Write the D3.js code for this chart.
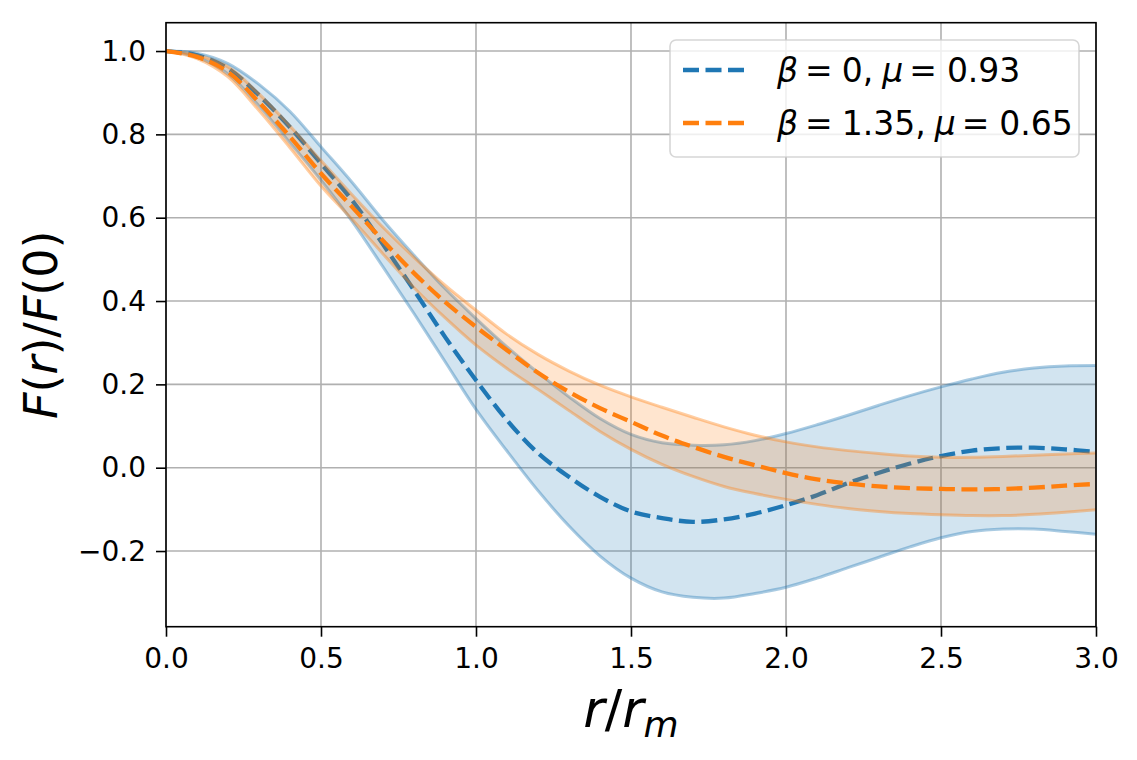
<html>
<head>
<meta charset="utf-8">
<script src="https://d3js.org/d3.v7.min.js"></script>
<style>
  body { margin: 0; background: #fff; }
  text { font-family: "DejaVu Sans", sans-serif; }
</style>
</head>
<body>
<div id="chart"></div>
<script>
// r / r_m sample points
var rVals = [0.0, 0.1, 0.2, 0.3, 0.4, 0.5, 0.6, 0.7, 0.8, 0.9,
             1.0, 1.1, 1.2, 1.3, 1.4, 1.5, 1.6, 1.7, 1.8, 1.9,
             2.0, 2.1, 2.2, 2.3, 2.4, 2.5, 2.6, 2.7, 2.8, 2.9, 3.0];

// beta = 0, mu = 0.93
var blueMean  = [1.000, 0.990, 0.958, 0.894, 0.817, 0.730, 0.642, 0.536, 0.426, 0.314,
                 0.210, 0.114, 0.035, -0.022, -0.070, -0.105, -0.121, -0.130, -0.124, -0.110,
                 -0.090, -0.066, -0.037, -0.012, 0.010, 0.028, 0.041, 0.047, 0.048, 0.044, 0.038];
var blueUpper = [1.000, 0.995, 0.970, 0.920, 0.855, 0.770, 0.685, 0.594, 0.510, 0.430,
                 0.358, 0.290, 0.228, 0.170, 0.118, 0.080, 0.060, 0.054, 0.055, 0.065,
                 0.082, 0.103, 0.126, 0.150, 0.173, 0.194, 0.213, 0.229, 0.239, 0.244, 0.245];
var blueLower = [1.000, 0.985, 0.945, 0.868, 0.780, 0.690, 0.592, 0.482, 0.370, 0.255,
                 0.140, 0.040, -0.055, -0.140, -0.212, -0.265, -0.298, -0.311, -0.313, -0.302,
                 -0.287, -0.265, -0.240, -0.215, -0.190, -0.168, -0.153, -0.147, -0.147, -0.153, -0.160];

// beta = 1.35, mu = 0.65
var orangeMean  = [1.000, 0.986, 0.950, 0.877, 0.794, 0.706, 0.626, 0.545, 0.467, 0.398,
                   0.338, 0.282, 0.228, 0.182, 0.143, 0.110, 0.077, 0.050, 0.026, 0.006,
                   -0.013, -0.028, -0.038, -0.045, -0.049, -0.051, -0.052, -0.051, -0.048, -0.043, -0.039];
var orangeUpper = [1.000, 0.990, 0.962, 0.897, 0.820, 0.737, 0.655, 0.577, 0.505, 0.438,
                   0.378, 0.320, 0.272, 0.232, 0.198, 0.170, 0.145, 0.121, 0.098, 0.078,
                   0.062, 0.050, 0.041, 0.034, 0.028, 0.025, 0.025, 0.027, 0.030, 0.033, 0.035];
var orangeLower = [1.000, 0.982, 0.938, 0.857, 0.768, 0.676, 0.596, 0.513, 0.432, 0.360,
                   0.294, 0.238, 0.188, 0.137, 0.087, 0.044, 0.008, -0.021, -0.045, -0.062,
                   -0.076, -0.088, -0.098, -0.105, -0.110, -0.113, -0.115, -0.115, -0.112, -0.107, -0.101];

var xTicks = [0, 0.5, 1.0, 1.5, 2.0, 2.5, 3.0];
var yTicks = [-0.2, 0.0, 0.2, 0.4, 0.6, 0.8, 1.0];
var legendLabels = [["0", "0.93"], ["1.35", "0.65"]];

var series = [
  {mean: blueMean, upper: blueUpper, lower: blueLower, color: "#1f77b4"},
  {mean: orangeMean, upper: orangeUpper, lower: orangeLower, color: "#ff7f0e"}
];

var W = 1137, H = 760;
var pL = 166, pR = 1096, pT = 22.7, pB = 626.7;

var svg = d3.select("#chart").append("svg")
  .attr("width", W).attr("height", H);

var x = d3.scaleLinear().domain([0, 3]).range([pL, pR]);
var y = d3.scaleLinear().domain([-0.3816, 1.068]).range([pB, pT]);

// grid
svg.append("g").selectAll("line").data(xTicks).enter().append("line")
  .attr("x1", d => x(d)).attr("x2", d => x(d))
  .attr("y1", pT).attr("y2", pB)
  .style("stroke", "#b0b0b0").style("stroke-width", 1.6);
svg.append("g").selectAll("line").data(yTicks).enter().append("line")
  .attr("x1", pL).attr("x2", pR)
  .attr("y1", d => y(d)).attr("y2", d => y(d))
  .style("stroke", "#b0b0b0").style("stroke-width", 1.6);

svg.append("clipPath").attr("id", "clip").append("rect")
  .attr("x", pL).attr("y", pT).attr("width", pR - pL).attr("height", pB - pT);

var plot = svg.append("g").attr("clip-path", "url(#clip)");

var area = d3.area()
  .x((d, i) => x(rVals[i]))
  .y0(d => y(d[0])).y1(d => y(d[1]))
  .curve(d3.curveCatmullRom);
var line = d3.line()
  .x((d, i) => x(rVals[i])).y(d => y(d))
  .curve(d3.curveCatmullRom);

series.forEach(function(s) {
  var band = s.lower.map((v, i) => [v, s.upper[i]]);
  plot.append("path").attr("d", area(band))
    .style("fill", s.color).style("fill-opacity", 0.2).style("stroke", "none");
  [s.upper, s.lower].forEach(function(edge) {
    plot.append("path").attr("d", line(edge))
      .style("fill", "none").style("stroke", s.color)
      .style("stroke-opacity", 0.38).style("stroke-width", 3);
  });
  plot.append("path").attr("d", line(s.mean))
    .style("fill", "none").style("stroke", s.color)
    .style("stroke-width", 4.3).style("stroke-dasharray", "16,6.5");
});

// axes
var fmt = d => d3.format(".1f")(d).replace("-", "\u2212");
var xAxis = svg.append("g").attr("transform", "translate(0," + pB + ")")
  .call(d3.axisBottom(x).tickValues(xTicks).tickFormat(fmt).tickSize(10).tickPadding(11));
var yAxis = svg.append("g").attr("transform", "translate(" + pL + ",0)")
  .call(d3.axisLeft(y).tickValues(yTicks).tickFormat(fmt).tickSize(10).tickPadding(10));
[xAxis, yAxis].forEach(function(a) {
  a.select(".domain").remove();
  a.selectAll(".tick line").style("stroke", "#000").style("stroke-width", 1.6);
  a.selectAll(".tick text").style("font-family", "DejaVu Sans").style("font-size", "28px").style("fill", "#000");
});

// spines
svg.append("rect").attr("x", pL).attr("y", pT)
  .attr("width", pR - pL).attr("height", pB - pT)
  .style("fill", "none").style("stroke", "#000").style("stroke-width", 1.6);

// axis labels
var xl = svg.append("text").attr("x", 631).attr("y", 727)
  .attr("text-anchor", "middle").style("font-size", "52px");
xl.append("tspan").style("font-style", "italic").text("r");
xl.append("tspan").text("/");
xl.append("tspan").style("font-style", "italic").text("r");
xl.append("tspan").style("font-style", "italic").style("font-size", "36px").attr("dy", 10).text("m");

var yl = svg.append("text").attr("transform", "translate(57," + ((pT + pB) / 2) + ") rotate(-90)")
  .attr("text-anchor", "middle").style("font-size", "46px");
yl.append("tspan").style("font-style", "italic").text("F");
yl.append("tspan").text("(");
yl.append("tspan").style("font-style", "italic").text("r");
yl.append("tspan").text(")/");
yl.append("tspan").style("font-style", "italic").text("F");
yl.append("tspan").text("(0)");

// legend
var lg = svg.append("g");
lg.append("rect").attr("x", 670).attr("y", 40).attr("width", 409).attr("height", 117).attr("rx", 6)
  .style("fill", "#fff").style("fill-opacity", 0.8)
  .style("stroke", "#cccccc").style("stroke-opacity", 0.8).style("stroke-width", 1.6);
series.forEach(function(s, i) {
  var cy = 70 + i * 53;
  lg.append("line").attr("x1", 683).attr("x2", 750).attr("y1", cy).attr("y2", cy)
    .style("stroke", s.color).style("stroke-width", 4.3).style("stroke-dasharray", "16,6.5");
  var t = lg.append("text").attr("x", 777).attr("y", cy + 12).style("font-size", "33px");
  t.append("tspan").style("font-style", "italic").text("\u03b2");
  t.append("tspan").attr("dx", 7).text("=");
  t.append("tspan").attr("dx", 9).text(legendLabels[i][0] + ",");
  t.append("tspan").attr("dx", 9).style("font-style", "italic").text("\u03bc");
  t.append("tspan").attr("dx", 6).text("=");
  t.append("tspan").attr("dx", 10).text(legendLabels[i][1]);
});
</script>
</body>
</html>
